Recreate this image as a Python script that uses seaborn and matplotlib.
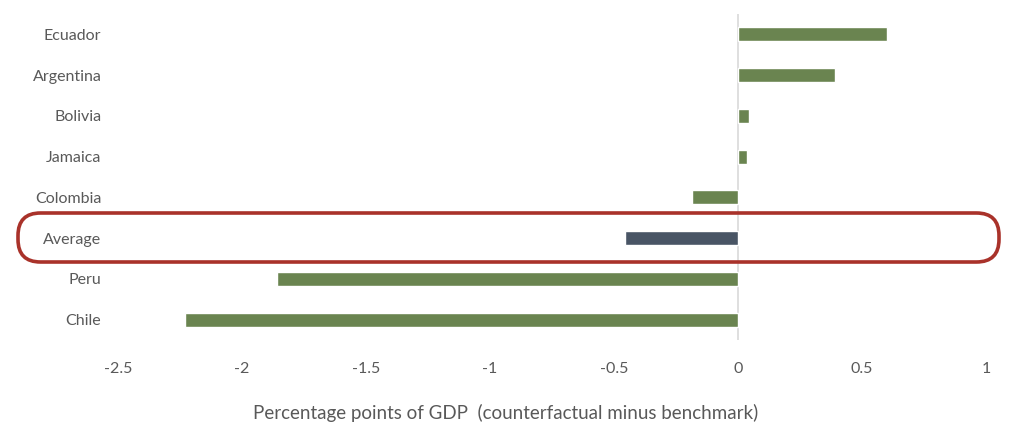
import pandas as pd
import matplotlib.pyplot as plt
import seaborn as sns
from matplotlib.patches import FancyBboxPatch

countries = ["Ecuador", "Argentina", "Bolivia", "Jamaica", "Colombia", "Average", "Peru", "Chile"]
values = [0.60, 0.39, 0.045, 0.035, -0.185, -0.455, -1.86, -2.23]
x_ticks = [-2.5, -2, -1.5, -1, -0.5, 0, 0.5, 1]
x_tick_labels = ["-2.5", "-2", "-1.5", "-1", "-0.5", "0", "0.5", "1"]

df = pd.DataFrame({"Country": countries, "Value": values})
colors = {c: ("#44546A" if c == "Average" else "#6A8D47") for c in countries}

sns.set_style("white")
plt.rcParams["font.family"] = ["Lato", "DejaVu Sans"]

fig = plt.figure(figsize=(10.24, 4.43), dpi=100)
ax = fig.add_axes([118 / 1024, 1 - 340 / 443, 868 / 1024, 326 / 443])

sns.barplot(data=df, x="Value", y="Country", hue="Country", palette=colors,
            order=countries, width=0.34, legend=False, ax=ax)

ax.axvline(0, color="#D9D9D9", lw=1.2, zorder=0)
ax.set_xlim(-2.5, 1)
ax.set_xticks(x_ticks)
ax.set_xticklabels(x_tick_labels)
ax.tick_params(axis="both", length=0, labelsize=11.5, colors="#595959")
ax.tick_params(axis="y", pad=12)
ax.tick_params(axis="x", pad=16)
ax.set_ylabel("")
ax.set_xlabel("Percentage points of GDP  (counterfactual minus benchmark)",
              fontsize=13.5, color="#595959")
ax.xaxis.set_label_coords(0.446, -0.195)
for s in ax.spines.values():
    s.set_visible(False)

# red highlight box around the Average row
box = FancyBboxPatch((18 / 1024, 1 - 262 / 443), 981 / 1024, 49 / 443,
                     boxstyle="round,pad=0,rounding_size=0.022",
                     transform=fig.transFigure, fill=False,
                     edgecolor="#A9322A", lw=2.6, mutation_aspect=1024 / 443)
fig.patches.append(box)

fig.savefig("out.png", dpi=100)
